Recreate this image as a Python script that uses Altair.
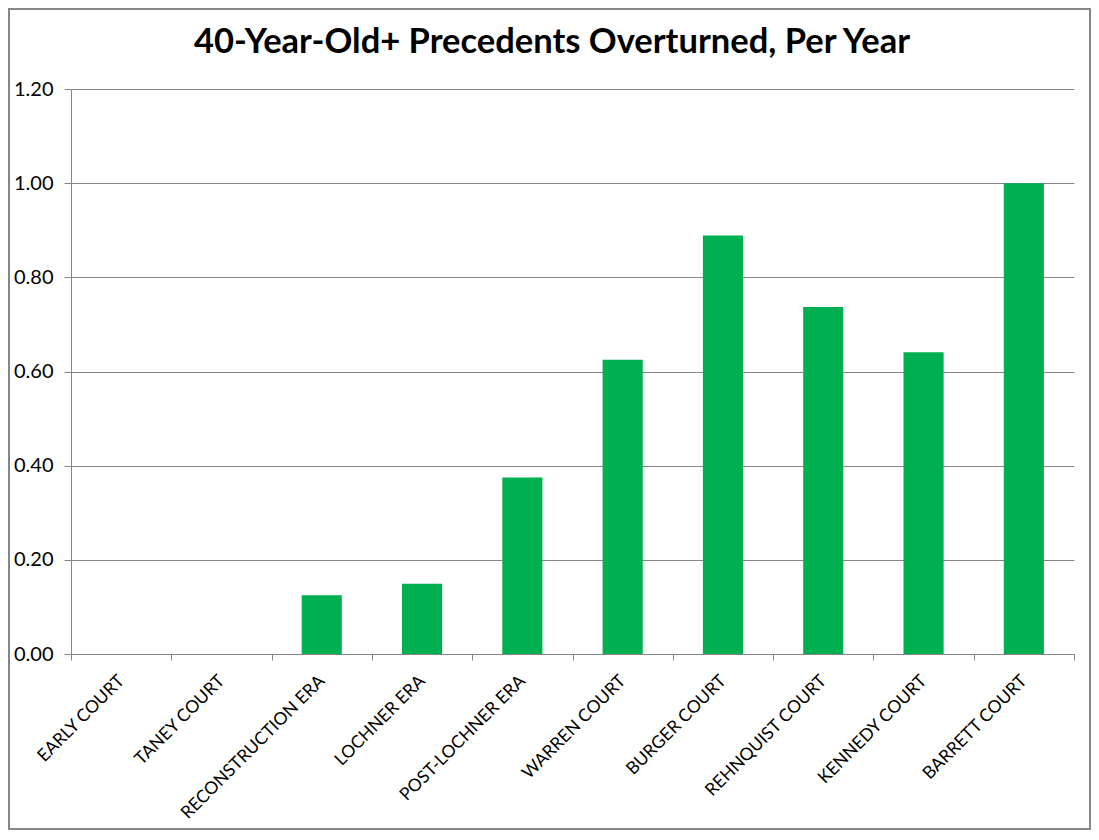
import altair as alt
import pandas as pd

categories = ["EARLY COURT", "TANEY COURT", "RECONSTRUCTION ERA", "LOCHNER ERA",
              "POST-LOCHNER ERA", "WARREN COURT", "BURGER COURT", "REHNQUIST COURT",
              "KENNEDY COURT", "BARRETT COURT"]
values = [0.0, 0.0, 0.125, 0.149, 0.375, 0.625, 0.889, 0.737, 0.641, 1.0]
y_ticks = [0.0, 0.2, 0.4, 0.6, 0.8, 1.0, 1.2]
title_text = "40-Year-Old+ Precedents Overturned, Per Year"

df = pd.DataFrame({"court": categories, "value": values})

W, H = 1003, 565
PL, PT, PR, PB = 63, 81, 17, 176
GRAY = "#868686"
FONT = "Lato"

bars = alt.Chart(df).mark_bar(
    color="#00B050", width=alt.RelativeBandSize(0.4)
).encode(
    x=alt.X("court:N", sort=categories, title=None,
            scale=alt.Scale(paddingInner=0, paddingOuter=0),
            axis=alt.Axis(labelAngle=-45, labelAlign="right", labelBaseline="middle",
                          labelPadding=18, tickBand="extent", tickSize=6,
                          tickColor=GRAY, domainColor=GRAY, labelFont=FONT,
                          labelFontSize=17.5, labelColor="#000000", grid=False,
                          labelLimit=400)),
    y=alt.Y("value:Q", title=None,
            scale=alt.Scale(domain=[0, 1.2], nice=False),
            axis=alt.Axis(values=y_ticks, format=".2f", tickSize=7, tickColor=GRAY,
                          domainColor=GRAY, gridColor=GRAY, gridWidth=1,
                          labelFont=FONT, labelFontSize=20, labelColor="#000000",
                          labelPadding=11)),
)

title_df = pd.DataFrame({"t": [title_text]})
title = alt.Chart(title_df).mark_text(
    font=FONT, fontSize=34.5, fontWeight="bold", color="#000000",
    align="center", baseline="middle"
).encode(text="t:N", x=alt.value(552 - 71), y=alt.value(43 - 89))

border = alt.Chart(title_df).mark_rect(
    fill=None, stroke=GRAY, strokeWidth=2
).encode(x=alt.value(-PL + 1), x2=alt.value(W + PR - 1),
         y=alt.value(-PT + 1), y2=alt.value(H + PB - 1))

chart = alt.layer(bars, title, border).properties(
    width=W, height=H,
    autosize=alt.AutoSizeParams(type="none"),
    padding={"left": PL, "top": PT, "right": PR, "bottom": PB},
    background="white",
).configure_view(stroke=None)

chart.save("out.html", embed_options={"renderer": "svg", "actions": False})
